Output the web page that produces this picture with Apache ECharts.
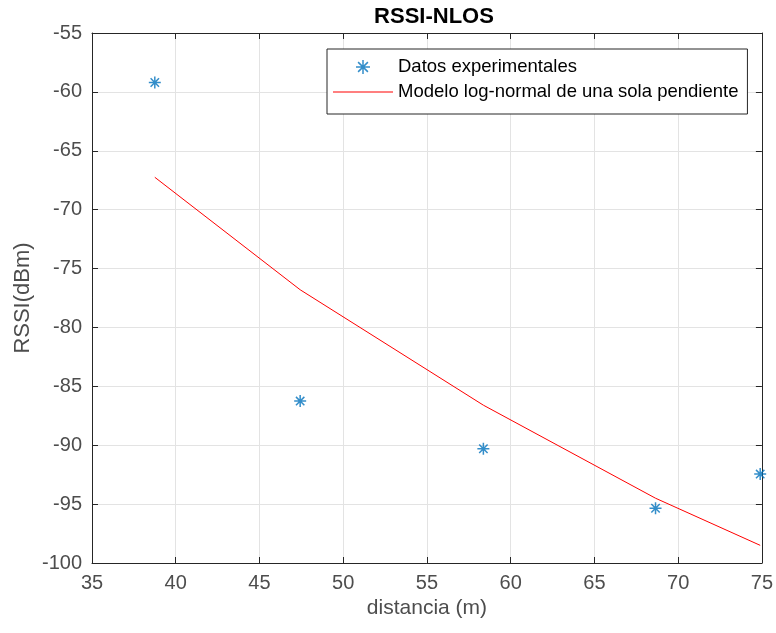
<!DOCTYPE html>
<html>
<head>
<meta charset="utf-8">
<script src="https://cdn.jsdelivr.net/npm/echarts@6/dist/echarts.min.js"></script>
<style>
  html, body { margin: 0; padding: 0; background: #fff; }
  #chart { width: 776px; height: 633px; }
</style>
</head>
<body>
<div id="chart"></div>
<script>
// Measured distances (m) and received power (dBm)
const distancias = [38.75, 47.43, 58.37, 68.65, 74.9];
const rssiMedido = [-59.2, -86.25, -90.3, -95.35, -92.45];
// Single-slope log-normal path-loss model evaluated at the same distances
const rssiModelo = [-67.25, -76.8, -86.6, -94.5, -98.5];

const xTicks = { min: 35, max: 75, step: 5 };
const yTicks = { min: -100, max: -55, step: 5 };

const FONT = '"Liberation Sans", Arial, Helvetica, sans-serif';
const AXIS = '#262626';
const TEXT = '#4d4d4d';
const GRID = '#e3e3e3';
const BLUE = '#0072BD';
const RED = '#FF0000';

// MATLAB-style asterisk marker: plus combined with a cross
const ASTERISK = 'path://M0,-10L0,10M-10,0L10,0M-7,-7L7,7M-7,7L7,-7';
// Plain horizontal stroke used as the legend key of the model line
const LINE_KEY = 'path://M0,0H60V1H0Z';

const pares = (xs, ys) => xs.map((x, i) => [x, ys[i]]);

const chart = echarts.init(document.getElementById('chart'), null, { renderer: 'canvas' });

const axisCommon = {
  axisLine: { show: true, onZero: false, lineStyle: { color: AXIS, width: 1 } },
  axisTick: { show: true, inside: true, length: 6, lineStyle: { color: AXIS } },
};

chart.setOption({
  animation: false,
  backgroundColor: '#ffffff',
  title: {
    text: 'RSSI-NLOS',
    left: 429, top: 1, textAlign: 'center',
    textStyle: { fontFamily: FONT, fontSize: 22, fontWeight: 'bold', color: '#000' }
  },
  grid: { left: 92, right: 11, top: 33, bottom: 70, containLabel: false },
  legend: {
    orient: 'vertical',
    left: 327, top: 49,
    padding: [7, 9, 11, 6],
    itemGap: 3,
    itemWidth: 60,
    itemHeight: 14,
    symbolKeepAspect: true,
    borderColor: '#262626',
    borderWidth: 1,
    backgroundColor: '#fff',
    textStyle: { fontFamily: FONT, fontSize: 18.5, color: '#000', lineHeight: 22 },
    data: [
      { name: 'Datos experimentales', icon: ASTERISK,
        itemStyle: { color: 'none', borderColor: BLUE, borderWidth: 1.5 } },
      { name: 'Modelo log-normal de una sola pendiente', icon: LINE_KEY,
        itemStyle: { color: RED, borderWidth: 0 } }
    ]
  },
  xAxis: [
    Object.assign({
      type: 'value', min: xTicks.min, max: xTicks.max, interval: xTicks.step,
      name: 'distancia (m)', nameLocation: 'middle', nameGap: 28,
      nameTextStyle: { fontFamily: FONT, fontSize: 21, color: TEXT },
      axisLabel: { fontFamily: FONT, fontSize: 20, color: TEXT, margin: 10 },
      splitLine: { show: true, lineStyle: { color: GRID, width: 1 } }
    }, axisCommon),
    Object.assign({
      type: 'value', position: 'top', min: xTicks.min, max: xTicks.max, interval: xTicks.step,
      axisLabel: { show: false }, splitLine: { show: false }
    }, axisCommon)
  ],
  yAxis: [
    Object.assign({
      type: 'value', min: yTicks.min, max: yTicks.max, interval: yTicks.step,
      name: 'RSSI(dBm)', nameLocation: 'middle', nameGap: 58, nameRotate: 90,
      nameMoveOverlap: false,
      nameTextStyle: { fontFamily: FONT, fontSize: 22, color: TEXT },
      axisLabel: { fontFamily: FONT, fontSize: 20, color: TEXT, margin: 10 },
      splitLine: { show: true, lineStyle: { color: GRID, width: 1 } }
    }, axisCommon),
    Object.assign({
      type: 'value', position: 'right', min: yTicks.min, max: yTicks.max, interval: yTicks.step,
      axisLabel: { show: false }, splitLine: { show: false }
    }, axisCommon)
  ],
  series: [
    {
      name: 'Datos experimentales',
      type: 'scatter',
      data: pares(distancias, rssiMedido),
      symbol: ASTERISK,
      symbolSize: 12,
      itemStyle: { color: 'none', borderColor: BLUE, borderWidth: 1.5 },
      z: 5
    },
    {
      name: 'Modelo log-normal de una sola pendiente',
      type: 'line',
      data: pares(distancias, rssiModelo),
      showSymbol: false,
      symbol: 'none',
      lineStyle: { color: RED, width: 1 },
      itemStyle: { color: RED },
      z: 4
    }
  ]
});
</script>
</body>
</html>
